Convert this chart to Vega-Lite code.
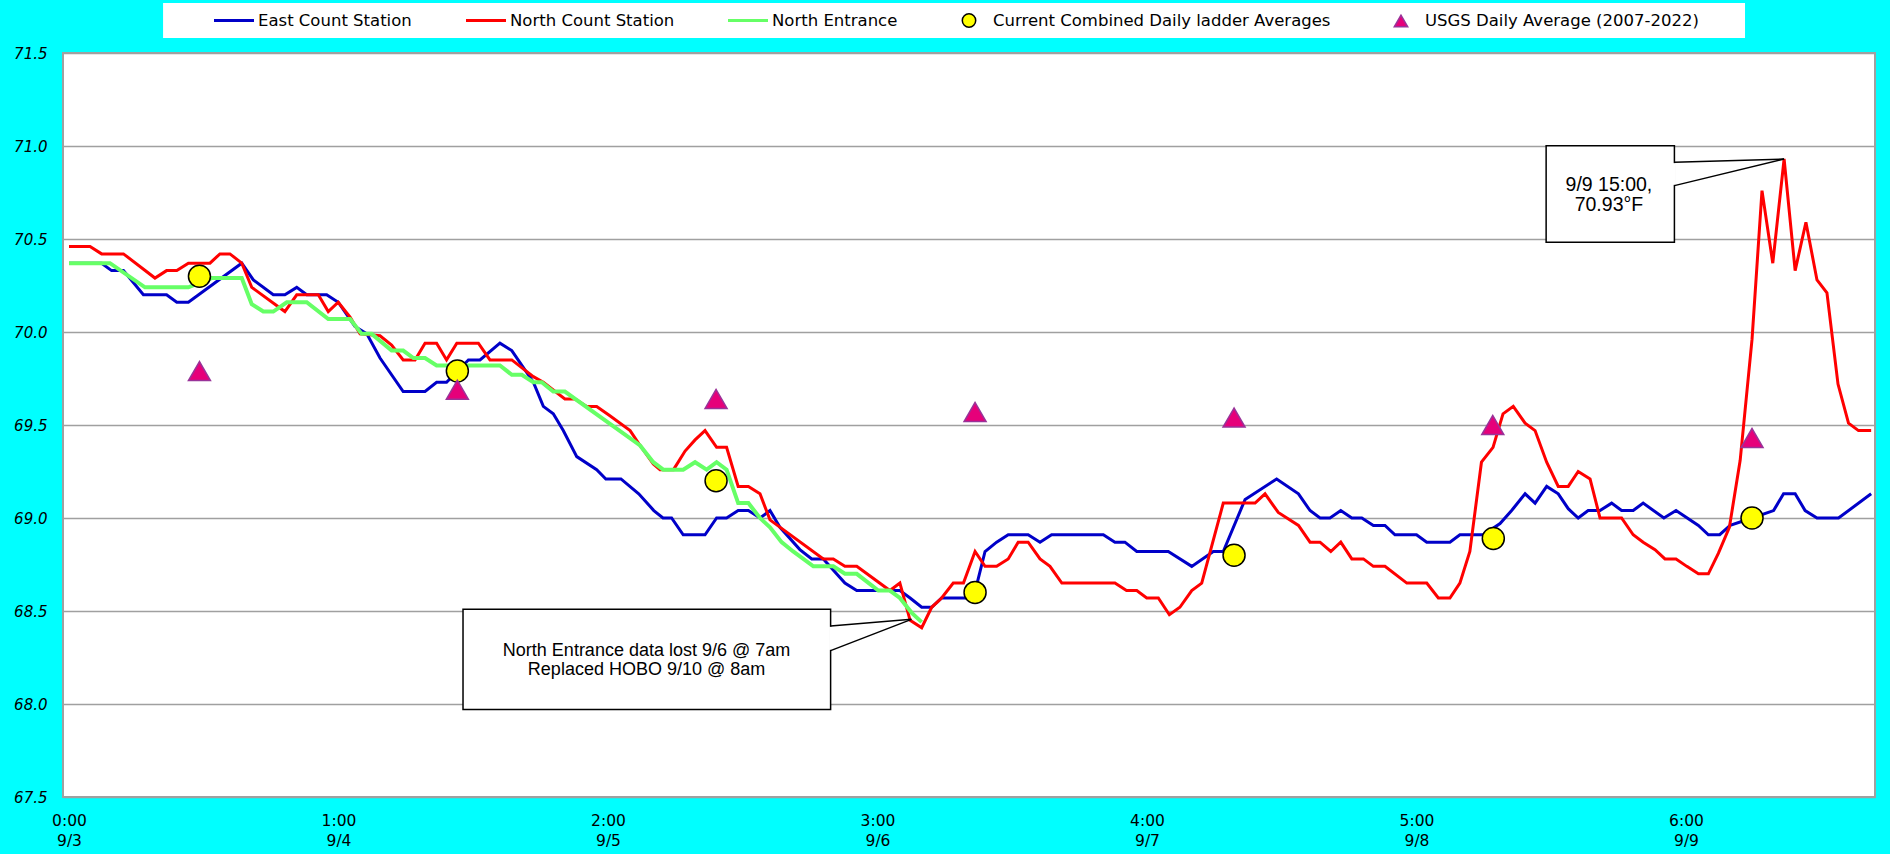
{
  "$schema": "https://vega.github.io/schema/vega-lite/v6.json",
  "width": 1812,
  "height": 744,
  "autosize": {"type": "none"},
  "padding": {"left": 63, "top": 53, "right": 15, "bottom": 57},
  "background": "#00FFFF",
  "config": {
    "view": {"fill": "white", "stroke": "#A0A0A0", "strokeWidth": 2},
    "legend": {"labelColor": "#000000"}
  },
  "datasets": {
    "east": [
      {"day":0.000,"temp":70.37},{"day":0.121,"temp":70.37},{"day":0.158,"temp":70.33},{"day":0.202,"temp":70.33},
      {"day":0.276,"temp":70.20},{"day":0.362,"temp":70.20},{"day":0.400,"temp":70.16},{"day":0.443,"temp":70.16},
      {"day":0.641,"temp":70.37},{"day":0.684,"temp":70.28},{"day":0.758,"temp":70.20},{"day":0.801,"temp":70.20},
      {"day":0.845,"temp":70.24},{"day":0.882,"temp":70.20},{"day":0.956,"temp":70.20},{"day":0.999,"temp":70.16},
      {"day":1.061,"temp":70.03},{"day":1.105,"temp":69.99},{"day":1.154,"temp":69.86},{"day":1.240,"temp":69.68},
      {"day":1.321,"temp":69.68},{"day":1.364,"temp":69.73},{"day":1.401,"temp":69.73},{"day":1.482,"temp":69.85},
      {"day":1.525,"temp":69.85},{"day":1.599,"temp":69.94},{"day":1.643,"temp":69.90},{"day":1.723,"temp":69.73},
      {"day":1.760,"temp":69.60},{"day":1.797,"temp":69.56},{"day":1.834,"temp":69.47},{"day":1.884,"temp":69.33},
      {"day":1.958,"temp":69.26},{"day":1.992,"temp":69.21},{"day":2.048,"temp":69.21},{"day":2.114,"temp":69.13},
      {"day":2.170,"temp":69.04},{"day":2.204,"temp":69.00},{"day":2.236,"temp":69.00},{"day":2.279,"temp":68.91},
      {"day":2.360,"temp":68.91},{"day":2.403,"temp":69.00},{"day":2.440,"temp":69.00},{"day":2.483,"temp":69.04},
      {"day":2.521,"temp":69.04},{"day":2.564,"temp":69.00},{"day":2.601,"temp":69.04},{"day":2.638,"temp":68.95},
      {"day":2.712,"temp":68.83},{"day":2.756,"temp":68.78},{"day":2.799,"temp":68.78},{"day":2.879,"temp":68.65},
      {"day":2.923,"temp":68.61},{"day":3.083,"temp":68.61},{"day":3.121,"temp":68.57},{"day":3.164,"temp":68.52},
      {"day":3.201,"temp":68.52},{"day":3.238,"temp":68.57},{"day":3.356,"temp":68.57},{"day":3.399,"temp":68.82},
      {"day":3.442,"temp":68.87},{"day":3.485,"temp":68.91},{"day":3.559,"temp":68.91},{"day":3.603,"temp":68.87},
      {"day":3.646,"temp":68.91},{"day":3.838,"temp":68.91},{"day":3.881,"temp":68.87},{"day":3.918,"temp":68.87},
      {"day":3.962,"temp":68.82},{"day":4.079,"temp":68.82},{"day":4.166,"temp":68.74},{"day":4.246,"temp":68.82},
      {"day":4.283,"temp":68.82},{"day":4.364,"temp":69.10},{"day":4.481,"temp":69.21},{"day":4.562,"temp":69.13},
      {"day":4.605,"temp":69.04},{"day":4.642,"temp":69.00},{"day":4.679,"temp":69.00},{"day":4.719,"temp":69.04},
      {"day":4.760,"temp":69.00},{"day":4.797,"temp":69.00},{"day":4.840,"temp":68.96},{"day":4.883,"temp":68.96},
      {"day":4.920,"temp":68.91},{"day":5.000,"temp":68.91},{"day":5.038,"temp":68.87},{"day":5.124,"temp":68.87},
      {"day":5.161,"temp":68.91},{"day":5.248,"temp":68.91},{"day":5.310,"temp":68.97},{"day":5.353,"temp":69.04},
      {"day":5.403,"temp":69.13},{"day":5.440,"temp":69.08},{"day":5.483,"temp":69.17},{"day":5.526,"temp":69.13},
      {"day":5.563,"temp":69.05},{"day":5.600,"temp":69.00},{"day":5.637,"temp":69.04},{"day":5.681,"temp":69.04},
      {"day":5.724,"temp":69.08},{"day":5.761,"temp":69.04},{"day":5.804,"temp":69.04},{"day":5.841,"temp":69.08},
      {"day":5.918,"temp":69.00},{"day":5.963,"temp":69.04},{"day":6.046,"temp":68.96},{"day":6.083,"temp":68.91},
      {"day":6.125,"temp":68.91},{"day":6.164,"temp":68.96},{"day":6.245,"temp":69.00},{"day":6.325,"temp":69.04},
      {"day":6.362,"temp":69.13},{"day":6.405,"temp":69.13},{"day":6.442,"temp":69.04},{"day":6.486,"temp":69.00},
      {"day":6.566,"temp":69.00},{"day":6.687,"temp":69.13}
    ],
    "north": [
      {"day":0.000,"temp":70.46},{"day":0.078,"temp":70.46},{"day":0.121,"temp":70.42},{"day":0.202,"temp":70.42},
      {"day":0.319,"temp":70.29},{"day":0.362,"temp":70.33},{"day":0.400,"temp":70.33},{"day":0.443,"temp":70.37},
      {"day":0.523,"temp":70.37},{"day":0.560,"temp":70.42},{"day":0.597,"temp":70.42},{"day":0.641,"temp":70.37},
      {"day":0.678,"temp":70.24},{"day":0.801,"temp":70.11},{"day":0.845,"temp":70.20},{"day":0.925,"temp":70.20},
      {"day":0.962,"temp":70.11},{"day":0.999,"temp":70.16},{"day":1.043,"temp":70.08},{"day":1.080,"temp":69.99},
      {"day":1.154,"temp":69.98},{"day":1.197,"temp":69.93},{"day":1.240,"temp":69.85},{"day":1.284,"temp":69.85},
      {"day":1.321,"temp":69.94},{"day":1.364,"temp":69.94},{"day":1.401,"temp":69.85},{"day":1.439,"temp":69.94},
      {"day":1.519,"temp":69.94},{"day":1.562,"temp":69.85},{"day":1.643,"temp":69.85},{"day":1.723,"temp":69.76},
      {"day":1.760,"temp":69.73},{"day":1.840,"temp":69.64},{"day":1.878,"temp":69.64},{"day":1.921,"temp":69.60},
      {"day":1.958,"temp":69.60},{"day":2.007,"temp":69.55},{"day":2.082,"temp":69.47},{"day":2.119,"temp":69.39},
      {"day":2.168,"temp":69.29},{"day":2.193,"temp":69.26},{"day":2.243,"temp":69.26},{"day":2.286,"temp":69.36},
      {"day":2.323,"temp":69.42},{"day":2.360,"temp":69.47},{"day":2.403,"temp":69.38},{"day":2.440,"temp":69.38},
      {"day":2.483,"temp":69.17},{"day":2.521,"temp":69.17},{"day":2.564,"temp":69.13},{"day":2.601,"temp":68.99},
      {"day":2.799,"temp":68.78},{"day":2.836,"temp":68.78},{"day":2.879,"temp":68.74},{"day":2.923,"temp":68.74},
      {"day":3.046,"temp":68.61},{"day":3.083,"temp":68.65},{"day":3.121,"temp":68.45},{"day":3.164,"temp":68.41},
      {"day":3.201,"temp":68.52},{"day":3.238,"temp":68.57},{"day":3.281,"temp":68.65},{"day":3.319,"temp":68.65},
      {"day":3.362,"temp":68.82},{"day":3.399,"temp":68.74},{"day":3.442,"temp":68.74},{"day":3.485,"temp":68.78},
      {"day":3.522,"temp":68.87},{"day":3.559,"temp":68.87},{"day":3.603,"temp":68.78},{"day":3.640,"temp":68.74},
      {"day":3.684,"temp":68.65},{"day":3.881,"temp":68.65},{"day":3.924,"temp":68.61},{"day":3.962,"temp":68.61},
      {"day":3.999,"temp":68.57},{"day":4.042,"temp":68.57},{"day":4.083,"temp":68.48},{"day":4.122,"temp":68.52},
      {"day":4.166,"temp":68.61},{"day":4.203,"temp":68.65},{"day":4.283,"temp":69.08},{"day":4.401,"temp":69.08},
      {"day":4.438,"temp":69.13},{"day":4.487,"temp":69.03},{"day":4.562,"temp":68.96},{"day":4.605,"temp":68.87},
      {"day":4.642,"temp":68.87},{"day":4.682,"temp":68.82},{"day":4.719,"temp":68.87},{"day":4.760,"temp":68.78},
      {"day":4.803,"temp":68.78},{"day":4.840,"temp":68.74},{"day":4.883,"temp":68.74},{"day":4.964,"temp":68.65},
      {"day":5.038,"temp":68.65},{"day":5.081,"temp":68.57},{"day":5.124,"temp":68.57},{"day":5.161,"temp":68.65},
      {"day":5.198,"temp":68.82},{"day":5.241,"temp":69.30},{"day":5.284,"temp":69.38},{"day":5.321,"temp":69.56},
      {"day":5.359,"temp":69.60},{"day":5.403,"temp":69.51},{"day":5.440,"temp":69.47},{"day":5.483,"temp":69.30},
      {"day":5.526,"temp":69.17},{"day":5.563,"temp":69.17},{"day":5.600,"temp":69.25},{"day":5.644,"temp":69.21},
      {"day":5.681,"temp":69.00},{"day":5.761,"temp":69.00},{"day":5.804,"temp":68.91},{"day":5.841,"temp":68.87},
      {"day":5.885,"temp":68.83},{"day":5.922,"temp":68.78},{"day":5.963,"temp":68.78},{"day":6.003,"temp":68.74},
      {"day":6.046,"temp":68.70},{"day":6.083,"temp":68.70},{"day":6.120,"temp":68.81},{"day":6.161,"temp":68.95},
      {"day":6.201,"temp":69.31},{"day":6.245,"temp":69.96},{"day":6.282,"temp":70.76},{"day":6.322,"temp":70.37},
      {"day":6.364,"temp":70.93},{"day":6.405,"temp":70.33},{"day":6.445,"temp":70.59},{"day":6.486,"temp":70.28},
      {"day":6.523,"temp":70.21},{"day":6.564,"temp":69.72},{"day":6.603,"temp":69.51},{"day":6.640,"temp":69.47},
      {"day":6.687,"temp":69.47}
    ],
    "entrance": [
      {"day":0.000,"temp":70.37},{"day":0.152,"temp":70.37},{"day":0.282,"temp":70.24},{"day":0.443,"temp":70.24},
      {"day":0.529,"temp":70.29},{"day":0.641,"temp":70.29},{"day":0.678,"temp":70.15},{"day":0.721,"temp":70.11},
      {"day":0.758,"temp":70.11},{"day":0.808,"temp":70.16},{"day":0.882,"temp":70.16},{"day":0.962,"temp":70.07},
      {"day":1.043,"temp":70.07},{"day":1.086,"temp":69.99},{"day":1.123,"temp":69.99},{"day":1.197,"temp":69.90},
      {"day":1.240,"temp":69.90},{"day":1.278,"temp":69.86},{"day":1.321,"temp":69.86},{"day":1.364,"temp":69.82},
      {"day":1.599,"temp":69.82},{"day":1.643,"temp":69.77},{"day":1.680,"temp":69.77},{"day":1.723,"temp":69.73},
      {"day":1.754,"temp":69.73},{"day":1.797,"temp":69.68},{"day":1.840,"temp":69.68},{"day":2.119,"temp":69.39},
      {"day":2.168,"temp":69.30},{"day":2.205,"temp":69.26},{"day":2.279,"temp":69.26},{"day":2.323,"temp":69.30},
      {"day":2.366,"temp":69.26},{"day":2.403,"temp":69.30},{"day":2.440,"temp":69.26},{"day":2.483,"temp":69.08},
      {"day":2.521,"temp":69.08},{"day":2.564,"temp":69.00},{"day":2.601,"temp":68.95},{"day":2.644,"temp":68.87},
      {"day":2.687,"temp":68.82},{"day":2.762,"temp":68.74},{"day":2.836,"temp":68.74},{"day":2.879,"temp":68.70},
      {"day":2.923,"temp":68.70},{"day":3.003,"temp":68.61},{"day":3.046,"temp":68.61},{"day":3.083,"temp":68.57},
      {"day":3.127,"temp":68.49},{"day":3.164,"temp":68.44}
    ],
    "avg": [
      {"day":0.484,"temp":70.30},{"day":1.441,"temp":69.79},{"day":2.401,"temp":69.20},{"day":3.362,"temp":68.60},
      {"day":4.323,"temp":68.80},{"day":5.285,"temp":68.89},{"day":6.245,"temp":69.00}
    ],
    "usgs": [
      {"day":0.484,"temp":69.79},{"day":1.441,"temp":69.69},{"day":2.401,"temp":69.64},{"day":3.362,"temp":69.57},
      {"day":4.323,"temp":69.54},{"day":5.283,"temp":69.50},{"day":6.245,"temp":69.43}
    ]
  },
  "layer": [
    {
      "data": {"values": [{}]},
      "mark": {"type": "rect", "fill": "white", "stroke": null},
      "encoding": {
        "x": {"datum": 0.349, "type": "quantitative", "scale": {"domain": [-0.0223, 6.7013], "nice": false, "zero": false}},
        "x2": {"datum": 6.219},
        "y": {"datum": 71.769, "type": "quantitative", "scale": {"domain": [67.5, 71.5], "nice": false, "zero": false}},
        "y2": {"datum": 71.581}
      }
    },
    {
      "data": {"name": "east"},
      "mark": {"type": "line", "strokeWidth": 3},
      "encoding": {
        "x": {"field": "day", "type": "quantitative",
          "axis": {"values": [0,1,2,3,4,5,6], "labelExpr": "[datum.value + ':00', '9/' + (datum.value + 3)]",
            "grid": false, "domain": false, "ticks": false, "labelFlush": false, "labelFont": "DejaVu Sans",
            "labelFontSize": 15.5, "labelColor": "#000000", "labelPadding": 16, "labelLineHeight": 20.5,
            "labelBaseline": "top", "title": null}},
        "y": {"field": "temp", "type": "quantitative",
          "axis": {"values": [67.5,68,68.5,69,69.5,70,70.5,71,71.5], "format": ".1f", "grid": true,
            "gridColor": "#A0A0A0", "gridWidth": 1.5, "domain": false, "ticks": false, "labelFlush": false,
            "labelFont": "DejaVu Sans", "labelFontSize": 15, "labelFontStyle": "italic", "labelColor": "#000000",
            "labelPadding": 16, "title": null}},
        "color": {"datum": "East Count Station", "type": "nominal",
          "scale": {"domain": ["East Count Station", "North Count Station", "North Entrance"], "range": ["#0000C8", "#FF0000", "#66FF66"]},
          "legend": {"orient": "none", "legendX": 149.5, "legendY": -54, "direction": "horizontal", "title": null,
            "symbolType": "stroke", "symbolSize": 1600, "symbolStrokeWidth": 3, "labelFont": "DejaVu Sans",
            "labelFontSize": 16.5, "labelOffset": 2.5, "columnPadding": 47, "labelLimit": 1000}}
      }
    },
    {
      "data": {"name": "north"},
      "mark": {"type": "line", "strokeWidth": 3},
      "encoding": {
        "x": {"field": "day", "type": "quantitative"},
        "y": {"field": "temp", "type": "quantitative"},
        "color": {"datum": "North Count Station", "type": "nominal"}
      }
    },
    {
      "data": {"name": "entrance"},
      "mark": {"type": "line", "strokeWidth": 4},
      "encoding": {
        "x": {"field": "day", "type": "quantitative"},
        "y": {"field": "temp", "type": "quantitative"},
        "color": {"datum": "North Entrance", "type": "nominal"}
      }
    },
    {
      "data": {"name": "avg"},
      "mark": {"type": "point", "filled": true, "size": 484, "strokeWidth": 1.5, "opacity": 1},
      "encoding": {
        "x": {"field": "day", "type": "quantitative"},
        "y": {"field": "temp", "type": "quantitative"},
        "shape": {"datum": "Current Combined Daily ladder Averages", "type": "nominal",
          "scale": {"domain": ["Current Combined Daily ladder Averages", "USGS Daily Average (2007-2022)"], "range": ["circle", "triangle-up"]},
          "legend": {"orient": "none", "legendX": 897.75, "legendY": -40.75, "direction": "horizontal", "title": null,
            "symbolSize": 180, "symbolStrokeWidth": 1.5, "labelFont": "DejaVu Sans", "labelFontSize": 16.5,
            "labelOffset": 15.75, "columnPadding": 60, "labelLimit": 1000}},
        "fill": {"datum": "Current Combined Daily ladder Averages", "type": "nominal",
          "scale": {"domain": ["Current Combined Daily ladder Averages", "USGS Daily Average (2007-2022)"], "range": ["#FFFF00", "#E6007A"]},
          "legend": {"orient": "none", "legendX": 897.75, "legendY": -40.75, "direction": "horizontal", "title": null,
            "symbolSize": 180, "symbolStrokeWidth": 1.5, "labelFont": "DejaVu Sans", "labelFontSize": 16.5,
            "labelOffset": 15.75, "columnPadding": 60, "labelLimit": 1000}},
        "stroke": {"datum": "Current Combined Daily ladder Averages", "type": "nominal",
          "scale": {"domain": ["Current Combined Daily ladder Averages", "USGS Daily Average (2007-2022)"], "range": ["#000000", "#993399"]},
          "legend": {"orient": "none", "legendX": 897.75, "legendY": -40.75, "direction": "horizontal", "title": null,
            "symbolSize": 180, "symbolStrokeWidth": 1.5, "labelFont": "DejaVu Sans", "labelFontSize": 16.5,
            "labelOffset": 15.75, "columnPadding": 60, "labelLimit": 1000}}
      }
    },
    {
      "data": {"name": "usgs"},
      "mark": {"type": "point", "filled": true, "size": 484, "strokeWidth": 1.5, "opacity": 1},
      "encoding": {
        "x": {"field": "day", "type": "quantitative"},
        "y": {"field": "temp", "type": "quantitative"},
        "shape": {"datum": "USGS Daily Average (2007-2022)", "type": "nominal"},
        "fill": {"datum": "USGS Daily Average (2007-2022)", "type": "nominal"},
        "stroke": {"datum": "USGS Daily Average (2007-2022)", "type": "nominal"}
      }
    },
    {
      "data": {"values": [{}]},
      "mark": {"type": "rect", "fill": "white", "stroke": "black", "strokeWidth": 1.5},
      "encoding": {"x": {"datum": 1.462}, "x2": {"datum": 2.826}, "y": {"datum": 68.509}, "y2": {"datum": 67.971}}
    },
    {
      "data": {"values": [{}]},
      "mark": {"type": "rule", "stroke": "white", "strokeWidth": 3},
      "encoding": {"x": {"datum": 2.826}, "y": {"datum": 68.415}, "y2": {"datum": 68.291}}
    },
    {
      "data": {"values": [{}]},
      "mark": {"type": "rule", "stroke": "black", "strokeWidth": 1.5},
      "encoding": {"x": {"datum": 2.826}, "y": {"datum": 68.419}, "x2": {"datum": 3.126}, "y2": {"datum": 68.455}}
    },
    {
      "data": {"values": [{}]},
      "mark": {"type": "rule", "stroke": "black", "strokeWidth": 1.5},
      "encoding": {"x": {"datum": 2.826}, "y": {"datum": 68.287}, "x2": {"datum": 3.126}, "y2": {"datum": 68.455}}
    },
    {
      "data": {"values": [{"label": "North Entrance data lost 9/6 @ 7am\nReplaced HOBO 9/10 @ 8am"}]},
      "mark": {"type": "text", "font": "Liberation Sans", "fontSize": 18, "lineBreak": "\n", "lineHeight": 19, "align": "center", "baseline": "middle", "color": "#000000"},
      "encoding": {"text": {"field": "label"}, "x": {"datum": 2.143}, "y": {"datum": 68.285}}
    },
    {
      "data": {"values": [{}]},
      "mark": {"type": "rect", "fill": "white", "stroke": "black", "strokeWidth": 1.5},
      "encoding": {"x": {"datum": 5.481}, "x2": {"datum": 5.957}, "y": {"datum": 71.002}, "y2": {"datum": 70.482}}
    },
    {
      "data": {"values": [{}]},
      "mark": {"type": "rule", "stroke": "white", "strokeWidth": 3},
      "encoding": {"x": {"datum": 5.957}, "y": {"datum": 70.908}, "y2": {"datum": 70.791}}
    },
    {
      "data": {"values": [{}]},
      "mark": {"type": "rule", "stroke": "black", "strokeWidth": 1.5},
      "encoding": {"x": {"datum": 5.957}, "y": {"datum": 70.912}, "x2": {"datum": 6.364}, "y2": {"datum": 70.93}}
    },
    {
      "data": {"values": [{}]},
      "mark": {"type": "rule", "stroke": "black", "strokeWidth": 1.5},
      "encoding": {"x": {"datum": 5.957}, "y": {"datum": 70.787}, "x2": {"datum": 6.364}, "y2": {"datum": 70.93}}
    },
    {
      "data": {"values": [{"label": "9/9 15:00,\n70.93°F"}]},
      "mark": {"type": "text", "font": "Liberation Sans", "fontSize": 19.5, "lineBreak": "\n", "lineHeight": 20.7, "align": "center", "baseline": "middle", "color": "#000000"},
      "encoding": {"text": {"field": "label"}, "x": {"datum": 5.714}, "y": {"datum": 70.792}}
    }
  ]
}
